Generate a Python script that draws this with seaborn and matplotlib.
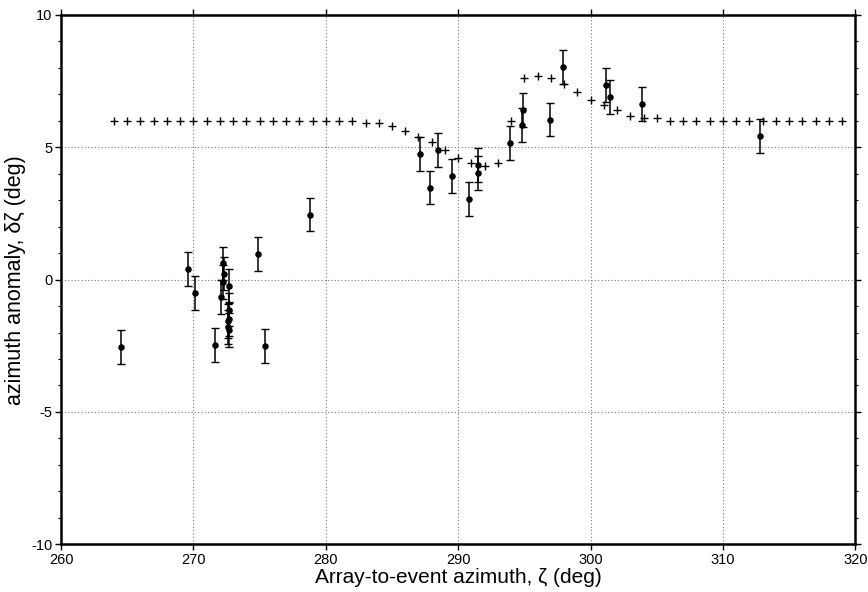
import numpy as np
import pandas as pd
import seaborn as sns
import matplotlib
matplotlib.use("Agg")
import matplotlib.pyplot as plt
from matplotlib.ticker import MultipleLocator

# model curve (crosses), 1 deg spacing
model_az = [264, 265, 266, 267, 268, 269, 270, 271, 272, 273, 274, 275, 276, 277,
            278, 279, 280, 281, 282, 283, 284, 285, 286, 287, 288, 289, 290, 291,
            292, 293, 294, 295, 296, 297, 298, 299, 300, 301, 302, 303, 304, 305,
            306, 307, 308, 309, 310, 311, 312, 313, 314, 315, 316, 317, 318, 319]
model_dz = [6.0, 6.0, 6.0, 6.0, 6.0, 6.0, 6.0, 6.0, 6.0, 6.0, 6.0, 6.0, 6.0, 6.0,
            6.0, 6.0, 6.0, 6.0, 6.0, 5.9, 5.9, 5.8, 5.6, 5.4, 5.2, 4.9, 4.6, 4.4,
            4.3, 4.4, 6.0, 7.6, 7.7, 7.6, 7.4, 7.1, 6.8, 6.6, 6.4, 6.2, 6.1, 6.1,
            6.0, 6.0, 6.0, 6.0, 6.0, 6.0, 6.0, 6.0, 6.0, 6.0, 6.0, 6.0, 6.0, 6.0]

# observed anomalies with error bars
obs_az = [264.5, 269.6, 270.1, 271.6, 272.2, 272.3, 272.2, 272.1, 272.7, 272.7,
          272.7, 272.6, 272.6, 272.7, 274.9, 275.4, 278.8, 287.1, 287.9, 288.5,
          289.5, 290.8, 291.5, 291.5, 293.9, 294.8, 294.9, 296.9, 297.9, 301.2,
          301.5, 303.9, 312.8]
obs_dz = [-2.54, 0.40, -0.49, -2.46, 0.61, 0.23, -0.08, -0.67, -0.24, -1.13,
          -1.48, -1.57, -1.78, -1.91, 0.96, -2.50, 2.46, 4.75, 3.48, 4.91,
          3.92, 3.05, 4.32, 4.03, 5.16, 5.83, 6.40, 6.05, 8.03, 7.37,
          6.89, 6.64, 5.44]
obs_err = [0.64] * len(obs_az)

model = pd.DataFrame({"az": model_az, "dz": model_dz})
obs = pd.DataFrame({"az": obs_az, "dz": obs_dz, "err": obs_err})

sns.set_style("ticks", {"axes.edgecolor": "black", "text.color": "black",
                        "xtick.color": "black", "ytick.color": "black",
                        "axes.labelcolor": "black"})
plt.rcParams["font.family"] = ["Liberation Sans", "DejaVu Sans"]
plt.rcParams["axes.unicode_minus"] = False

fig = plt.figure(figsize=(8.68, 5.92), dpi=100)
ax = fig.add_axes([0.0703, 0.0806, 0.9151, 0.8941])

ax.errorbar(obs["az"], obs["dz"], yerr=obs["err"], fmt="none", ecolor="black",
            elinewidth=1.1, capsize=3, capthick=1.0, zorder=3)
sns.scatterplot(data=obs, x="az", y="dz", color="black", s=22, linewidth=0,
                ax=ax, zorder=4)
sns.scatterplot(data=model, x="az", y="dz", marker="+", color="black", s=28,
                linewidth=1.0, ax=ax, zorder=5)

ax.set_xlim(260, 320)
ax.set_ylim(-10, 10)
ax.xaxis.set_major_locator(MultipleLocator(10))
ax.yaxis.set_major_locator(MultipleLocator(5))
ax.yaxis.set_minor_locator(MultipleLocator(1))
ax.grid(True, which="major", linestyle=(0, (1, 2)), color="#777777", linewidth=0.8)

for s in ax.spines.values():
    s.set_linewidth(1.8)
ax.tick_params(which="major", direction="out", length=4, width=1, labelsize=10.5,
               top=True, right=True, pad=2)
ax.tick_params(which="minor", direction="out", length=2.5, width=0.8,
               top=False, right=True)

ax.set_xlabel("Array-to-event azimuth, \u03b6 (deg)", fontsize=15, labelpad=1)
ax.set_ylabel("azimuth anomaly, \u03b4\u03b6 (deg)", fontsize=15.5, labelpad=4)

fig.savefig("out.png", dpi=100)
